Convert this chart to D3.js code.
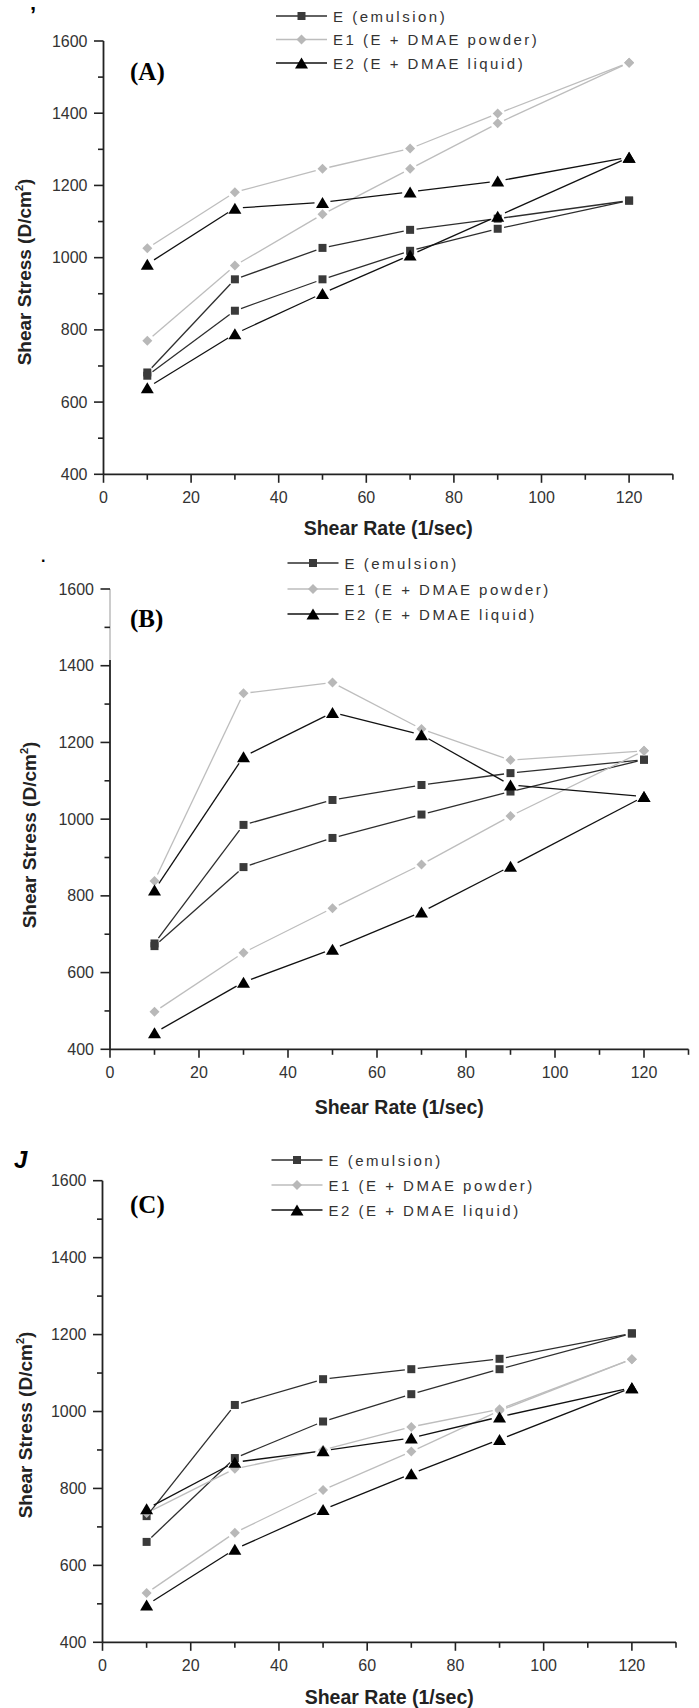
<!DOCTYPE html>
<html>
<head>
  <script src="https://d3js.org/d3.v7.min.js"></script>
  <style>
    body { margin: 0; background: #fff; }
    text { font-family: "Liberation Sans", Arial, sans-serif; }
  </style>
</head>
<body>
<div id="chart"></div>
<script>
  // shear rate points (1/sec), same for every curve
  const shearRate = [10, 30, 50, 70, 90, 120];

  const seriesNames = ["E (emulsion)", "E1 (E + DMAE powder)", "E2 (E + DMAE liquid)"];
  const panelLabels = ["(A)", "(B)", "(C)"];
  const xTicks = [0, 20, 40, 60, 80, 100, 120];
  const xMinor = [10, 30, 50, 70, 90, 110, 130];
  const yTicks = [400, 600, 800, 1000, 1200, 1400, 1600];
  const yMinor = [500, 700, 900, 1100, 1300, 1500];

  // shear stress (D/cm2), up curve and down curve of each sample
  // panel A
  const aE_up = [682, 940, 1027, 1077, 1108, 1158];
  const aE_down = [673, 853, 940, 1019, 1080, 1158];
  const aE1_up = [1026, 1181, 1246, 1302, 1399, 1540];
  const aE1_down = [770, 978, 1120, 1246, 1372, 1540];
  const aE2_up = [982, 1137, 1153, 1182, 1212, 1278];
  const aE2_down = [640, 789, 901, 1007, 1115, 1278];
  // panel B
  const bE_up = [676, 985, 1050, 1089, 1120, 1155];
  const bE_down = [669, 875, 951, 1012, 1072, 1155];
  const bE1_up = [839, 1328, 1356, 1235, 1154, 1178];
  const bE1_down = [498, 652, 768, 882, 1008, 1178];
  const bE2_up = [815, 1163, 1278, 1220, 1089, 1059];
  const bE2_down = [443, 575, 661, 758, 877, 1059];
  // panel C
  const cE_up = [728, 1017, 1084, 1110, 1137, 1203];
  const cE_down = [661, 879, 974, 1045, 1110, 1203];
  const cE1_up = [736, 851, 900, 960, 1006, 1136];
  const cE1_down = [528, 685, 796, 896, 1002, 1136];
  const cE2_up = [747, 868, 898, 931, 986, 1062];
  const cE2_down = [497, 642, 745, 838, 927, 1062];

  const panelData = [
    [[aE_up, aE_down], [aE1_up, aE1_down], [aE2_up, aE2_down]],
    [[bE_up, bE_down], [bE1_up, bE1_down], [bE2_up, bE2_down]],
    [[cE_up, cE_down], [cE1_up, cE1_down], [cE2_up, cE2_down]]
  ];

  // where each panel sits on the page
  const boxes = [
    { x0: 103.5, x1: 672.9, yTop: 41, yBot: 474.3, legX: 276, legY: [16, 39.5, 63],
      labY: 72, xTitleY: 528, yTitleX: 31, yTitleY: 272 },
    { x0: 110, x1: 688.5, yTop: 589, yBot: 1049.3, legX: 287.5, legY: [563, 589, 614],
      labY: 619, xTitleY: 1107, yTitleX: 36, yTitleY: 835 },
    { x0: 102.5, x1: 676, yTop: 1180.7, yBot: 1642.3, legX: 271.5, legY: [1160, 1185, 1210],
      labY: 1205, xTitleY: 1697, yTitleX: 31.5, yTitleY: 1425 }
  ];

  const lineColor = ["#2e2e2e", "#bdbdbd", "#111"];
  const markColor = ["#3a3a3a", "#b8b8b8", "#000"];
  const shapes = ["square", "diamond", "triangle"];
  const gaps = [6.5, 7, 8];

  function markerPath(shape) {
    if (shape == "square") return "M-4,-4H4V4H-4Z";
    if (shape == "diamond") return "M0,-5L5,0L0,5L-5,0Z";
    return "M0,-5.5L6.5,5.5L-6.5,5.5Z";
  }

  var svg = d3.select("#chart").append("svg")
    .attr("width", 699)
    .attr("height", 1708);

  // stray marks left over from the cropped figure
  svg.append("text").attr("x", 30).attr("y", 22).text("’")
    .style("font-size", "22px").style("font-weight", "bold");
  svg.append("text").attr("x", 41).attr("y", 562).text(".")
    .style("font-size", "16px").style("font-weight", "bold");
  svg.append("text").attr("x", 14).attr("y", 1168).text("J")
    .style("font-size", "24px").style("font-weight", "bold").style("font-style", "italic");

  boxes.forEach(function (b, p) {
    var x = d3.scaleLinear().domain([0, 130]).range([b.x0, b.x1]);
    var y = d3.scaleLinear().domain([400, 1600]).range([b.yBot, b.yTop]);
    var g = svg.append("g");

    // x axis
    g.append("line").attr("x1", x(0)).attr("x2", x(130))
      .attr("y1", y(400)).attr("y2", y(400))
      .attr("stroke", "#222").attr("stroke-width", 1.8);
    g.selectAll(".xt").data(xTicks).join("line")
      .attr("x1", d => x(d)).attr("x2", d => x(d))
      .attr("y1", y(400)).attr("y2", y(400) + 8.5)
      .attr("stroke", "#222").attr("stroke-width", 1.6);
    g.selectAll(".xm").data(xMinor).join("line")
      .attr("x1", d => x(d)).attr("x2", d => x(d))
      .attr("y1", y(400)).attr("y2", y(400) + 5.5)
      .attr("stroke", "#222").attr("stroke-width", 1.6);
    g.selectAll(".xl").data(xTicks).join("text")
      .attr("x", d => x(d)).attr("y", y(400) + 29)
      .attr("text-anchor", "middle")
      .style("font-size", "16px").style("fill", "#333")
      .text(d => d);

    // y axis (panel B has a faint top part)
    if (p == 1) {
      g.append("line").attr("x1", x(0)).attr("x2", x(0))
        .attr("y1", y(1600)).attr("y2", y(1415))
        .attr("stroke", "#999").attr("stroke-width", 1);
      g.append("line").attr("x1", x(0)).attr("x2", x(0))
        .attr("y1", y(1415)).attr("y2", y(400))
        .attr("stroke", "#222").attr("stroke-width", 1.8);
    } else {
      g.append("line").attr("x1", x(0)).attr("x2", x(0))
        .attr("y1", y(1600)).attr("y2", y(400))
        .attr("stroke", "#222").attr("stroke-width", 1.8);
    }
    g.selectAll(".yt").data(yTicks).join("line")
      .attr("x1", x(0) - 9.5).attr("x2", x(0))
      .attr("y1", d => y(d)).attr("y2", d => y(d))
      .attr("stroke", "#222").attr("stroke-width", 1.6);
    g.selectAll(".ym").data(yMinor).join("line")
      .attr("x1", x(0) - 5.5).attr("x2", x(0))
      .attr("y1", d => y(d)).attr("y2", d => y(d))
      .attr("stroke", "#222").attr("stroke-width", 1.6);
    g.selectAll(".yl").data(yTicks).join("text")
      .attr("x", x(0) - 16).attr("y", d => y(d) + 5.5)
      .attr("text-anchor", "end")
      .style("font-size", "16px").style("fill", "#333")
      .text(d => d);

    // axis titles
    g.append("text")
      .attr("x", (b.x0 + b.x1) / 2).attr("y", b.xTitleY + 7)
      .attr("text-anchor", "middle")
      .style("font-size", "19.5px").style("font-weight", "bold").style("fill", "#222")
      .text("Shear Rate (1/sec)");
    var yt = g.append("text")
      .attr("transform", "translate(" + b.yTitleX + "," + b.yTitleY + ") rotate(-90)")
      .attr("text-anchor", "middle")
      .style("font-size", "19px").style("font-weight", "bold").style("fill", "#222");
    yt.append("tspan").text("Shear Stress (D/cm");
    yt.append("tspan").attr("dy", -8).style("font-size", "11px").text("2");
    yt.append("tspan").attr("dy", 8).text(")");

    // panel letter
    g.append("text")
      .attr("x", 130).attr("y", b.labY + 8)
      .style("font-family", "'Liberation Serif', 'Times New Roman', serif")
      .style("font-size", "25px").style("font-weight", "bold")
      .text(panelLabels[p]);

    // curves: segments stop short of the markers
    panelData[p].forEach(function (curves, s) {
      curves.forEach(function (vals) {
        var pts = vals.map((v, i) => [x(shearRate[i]), y(v)]);
        var segs = d3.pairs(pts).map(function (pr) {
          var dx = pr[1][0] - pr[0][0], dy = pr[1][1] - pr[0][1];
          var len = Math.sqrt(dx * dx + dy * dy);
          var ux = dx / len, uy = dy / len, gp = gaps[s];
          return [pr[0][0] + ux * gp, pr[0][1] + uy * gp, pr[1][0] - ux * gp, pr[1][1] - uy * gp];
        });
        g.append("g").selectAll("line").data(segs).join("line")
          .attr("x1", d => d[0]).attr("y1", d => d[1])
          .attr("x2", d => d[2]).attr("y2", d => d[3])
          .attr("stroke", lineColor[s]).attr("stroke-width", 1.3);
      });
    });
    panelData[p].forEach(function (curves, s) {
      curves.forEach(function (vals) {
        g.append("g").selectAll("path").data(vals).join("path")
          .attr("transform", (v, i) => "translate(" + x(shearRate[i]) + "," + y(v) + ")")
          .attr("d", markerPath(shapes[s]))
          .attr("fill", markColor[s]);
      });
    });

    // legend
    seriesNames.forEach(function (name, s) {
      var ly = b.legY[s];
      g.append("line").attr("x1", b.legX).attr("x2", b.legX + 51)
        .attr("y1", ly).attr("y2", ly)
        .attr("stroke", lineColor[s]).attr("stroke-width", 1.5);
      g.append("path")
        .attr("transform", "translate(" + (b.legX + 25.5) + "," + ly + ")")
        .attr("d", markerPath(shapes[s]))
        .attr("fill", markColor[s]);
      g.append("text")
        .attr("x", b.legX + 57).attr("y", ly + 5.5)
        .style("font-size", "15px").style("letter-spacing", "2.5px").style("fill", "#333")
        .text(name);
    });
  });
</script>
</body>
</html>
